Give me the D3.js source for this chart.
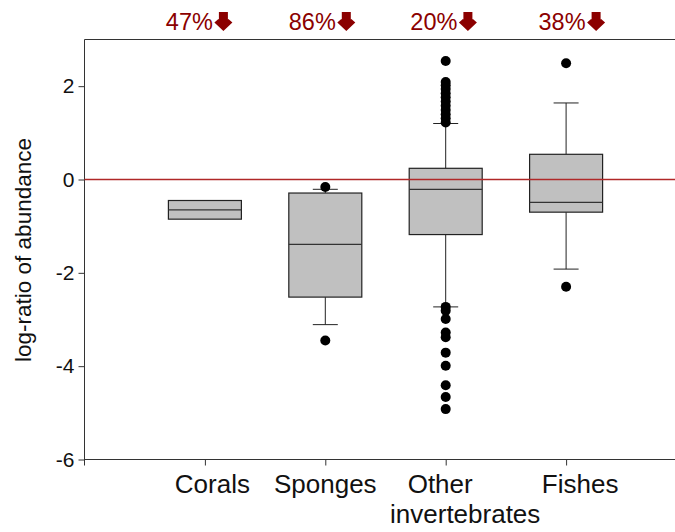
<!DOCTYPE html>
<html><head><meta charset="utf-8">
<script src="https://cdn.jsdelivr.net/npm/d3@7"></script>
<style>body{margin:0;background:#fff}svg{display:block}text{font-family:Arial,"Liberation Sans",sans-serif}</style>
</head><body><svg id="c" width="675" height="532"></svg>
<script>
// ---- data ----
const categories = [["Corals"], ["Sponges"], ["Other", "invertebrates"], ["Fishes"]];
const declines = ["47%", "86%", "20%", "38%"];
const q1 = [-0.85, -2.52, -1.18, -0.70];
const medians = [-0.65, -1.39, -0.21, -0.49];
const q3 = [-0.45, -0.29, 0.24, 0.54];
const whiskerLow = [null, -3.11, -2.73, -1.92];
const whiskerHigh = [null, -0.21, 1.20, 1.64];
const outliers = [
  [],
  [-0.16, -3.45],
  [2.54, 2.09, 2.02, 1.94, 1.85, 1.76, 1.67, 1.58, 1.49, 1.40, 1.31, 1.22,
   -2.73, -2.81, -2.99, -3.28, -3.38, -3.71, -3.99, -4.41, -4.66, -4.92],
  [2.49, -2.30]
];
const yTicks = [2, 0, -2, -4, -6];

// ---- layout ----
const svg = d3.select("#c");
const plotLeft = 84.5, plotTop = 39.5, plotBottom = 459.5, rightEdge = 690;
const y = d3.scaleLinear().domain([-6, 3]).range([plotBottom, plotTop]);
const xBox = d3.scaleLinear().domain([0, 5]).range([84.5, 686.5]);
const boxW = 73, capW = 25;
const catDx = [7.5, 0, -5.5, 14];
const catDx2 = [0, 0, 25, 0];
const topDx = [8, 10.5, 11.7, 19.5];
const dark = "#8b0000";

// frame lines
svg.append("line").attr("x1", plotLeft).attr("x2", rightEdge).attr("y1", plotTop).attr("y2", plotTop).attr("stroke", "#333").attr("stroke-width", 1.2);
svg.append("line").attr("x1", plotLeft).attr("x2", rightEdge).attr("y1", plotBottom).attr("y2", plotBottom).attr("stroke", "#333").attr("stroke-width", 1.2);

// y axis
const yAxis = d3.axisLeft(y).tickValues(yTicks).tickSize(6).tickPadding(4).tickFormat(d3.format("d"));
const ga = svg.append("g").attr("transform", `translate(${plotLeft},0)`).call(yAxis);
ga.select(".domain").attr("stroke", "#333").attr("d", `M0,${plotTop}V${plotBottom + 6}`);
ga.selectAll(".tick line").attr("stroke", "#333");
ga.selectAll(".tick text").attr("font-size", 21).attr("fill", "#111").attr("font-family", "Arial, Liberation Sans").text(d => d < 0 ? "-" + Math.abs(d) : d);

// x ticks
const xAxis = d3.axisBottom(xBox).tickValues([1, 2, 3, 4]).tickSize(6).tickFormat("");
const gx = svg.append("g").attr("transform", `translate(0,${plotBottom})`).call(xAxis);
gx.select(".domain").remove();
gx.selectAll(".tick line").attr("stroke", "#333");

// category labels
categories.forEach((lines, i) => {
  const t = svg.append("text").attr("text-anchor", "middle").attr("font-size", 26).attr("fill", "#111")
    .attr("y", 493);
  lines.forEach((l, j) => {
    t.append("tspan").attr("x", xBox(i + 1) + catDx[i] + (j > 0 ? catDx2[i] : 0)).attr("dy", j === 0 ? 0 : 30).text(l);
  });
});

// y label
svg.append("text").attr("transform", "translate(31,250) rotate(-90)").attr("text-anchor", "middle")
  .attr("font-size", 22.5).attr("fill", "#111").text("log-ratio of abundance");

// boxes
categories.forEach((c, i) => {
  const cx = xBox(i + 1);
  const g = svg.append("g");
  if (whiskerHigh[i] !== null) {
    g.append("line").attr("x1", cx).attr("x2", cx).attr("y1", y(q3[i])).attr("y2", y(whiskerHigh[i])).attr("stroke", "#222");
    g.append("line").attr("x1", cx - capW / 2).attr("x2", cx + capW / 2).attr("y1", y(whiskerHigh[i])).attr("y2", y(whiskerHigh[i])).attr("stroke", "#222");
    g.append("line").attr("x1", cx).attr("x2", cx).attr("y1", y(q1[i])).attr("y2", y(whiskerLow[i])).attr("stroke", "#222");
    g.append("line").attr("x1", cx - capW / 2).attr("x2", cx + capW / 2).attr("y1", y(whiskerLow[i])).attr("y2", y(whiskerLow[i])).attr("stroke", "#222");
  }
  g.append("rect").attr("x", cx - boxW / 2).attr("width", boxW).attr("y", y(q3[i])).attr("height", y(q1[i]) - y(q3[i]))
    .attr("fill", "#c0c0c0").attr("stroke", "#222").attr("stroke-width", 1.2);
  g.append("line").attr("x1", cx - boxW / 2).attr("x2", cx + boxW / 2).attr("y1", y(medians[i])).attr("y2", y(medians[i])).attr("stroke", "#333").attr("stroke-width", 1.2);
  g.selectAll("circle").data(outliers[i]).join("circle").attr("cx", cx).attr("cy", d => y(d)).attr("r", 5).attr("fill", "#000");
});

// zero reference line (drawn over boxes, as in the reference)
svg.append("line").attr("x1", plotLeft).attr("x2", rightEdge).attr("y1", y(0)).attr("y2", y(0))
  .attr("stroke", "#b02828").attr("stroke-width", 1.3);

// top decline labels
declines.forEach((d, i) => {
  const xe = xBox(i + 1) + topDx[i];
  svg.append("text").attr("x", xe).attr("y", 30).attr("text-anchor", "end").attr("font-size", 23.5).attr("fill", dark).text(d);
  const ax = xe + 10.5, ay = 12;
  svg.append("path").attr("fill", dark)
    .attr("d", `M${ax - 4.5},${ay}H${ax + 4.5}V${ay + 7.5}L${ax + 5},${ay + 7}L${ax + 9},${ay + 10.5}L${ax},${ay + 19}L${ax - 9},${ay + 10.5}L${ax - 5},${ay + 7}L${ax - 4.5},${ay + 7.5}Z`);
});
</script></body></html>
